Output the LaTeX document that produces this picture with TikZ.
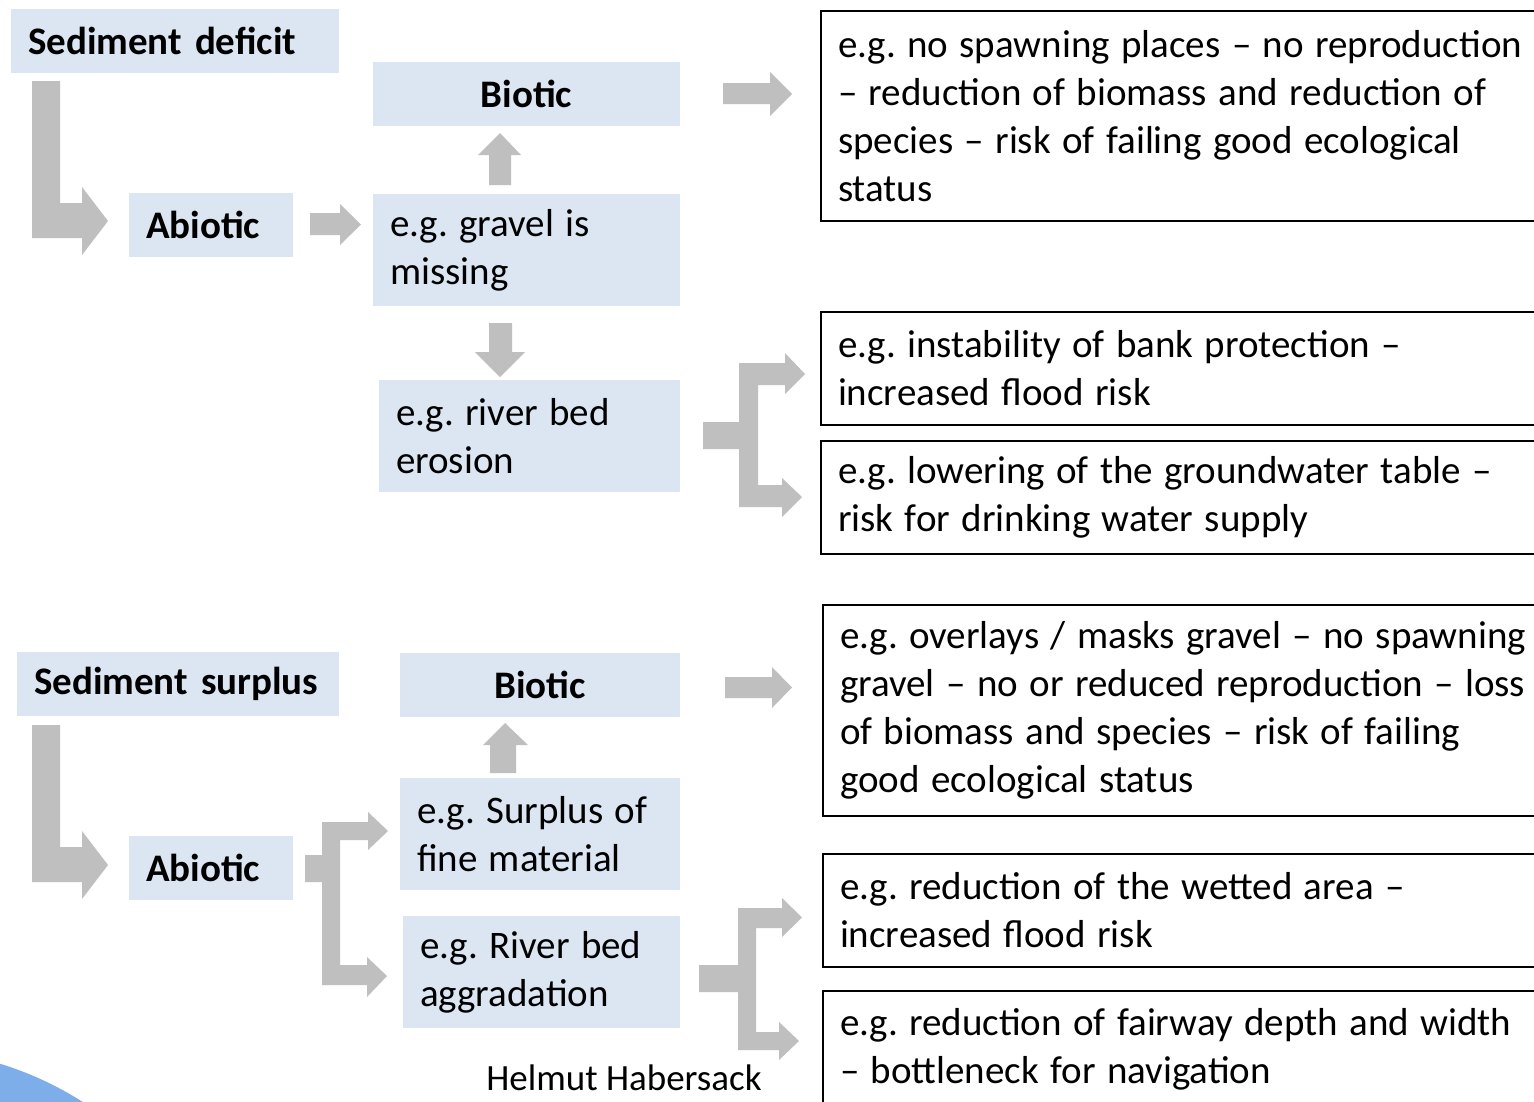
\documentclass[tikz,border=0pt]{standalone}
\usepackage{fontspec}
\setmainfont{Carlito}
\definecolor{boxblue}{HTML}{DCE6F2}
\definecolor{arrgray}{HTML}{BFBFBF}
\definecolor{circblue}{HTML}{7DAEEA}
\frenchspacing
\newcommand\bodyfont{\fontsize{39}{48}\selectfont}
\newcommand\tsp{\spaceskip=11.4pt plus 3pt minus 1pt\relax}
\begin{document}
\begin{tikzpicture}[x=1pt,y=-1pt,
  bluebox/.style={fill=boxblue, inner xsep=17pt, inner ysep=0pt, outer sep=0pt, anchor=north west, align=left, font=\bodyfont},
  headbox/.style={bluebox, font=\bodyfont\bfseries},
  outbox/.style={draw=black, line width=1.8pt, fill=white, inner xsep=17pt, inner ysep=0pt, outer sep=0pt, anchor=north west, align=left, font=\bodyfont, minimum width=740pt, text width=706pt},
  blockarrow/.style={fill=arrgray, draw=none}]

\useasboundingbox (0,0) rectangle (1534,1101);
\clip (0,0) rectangle (1534,1101);
\fill[white] (0,0) rectangle (1534,1101);
\fill[circblue] (-99,1387) circle (338);

% upper part
\node[headbox, minimum width=328pt, minimum height=64pt, text width=294pt] (sd) at (11,9) {Sediment deficit};
\node[headbox, minimum width=307pt, minimum height=64pt, text width=273pt, align=center] (bt) at (373,62) {Biotic};
\node[headbox, minimum width=164pt, minimum height=64pt, text width=130pt] (ab) at (129,193) {Abiotic};
\node[bluebox, minimum width=307pt, minimum height=112pt, text width=273pt] (gr) at (373,194) {\tsp e.g. gravel is\\missing};
\node[bluebox, minimum width=301pt, minimum height=112pt, text width=267pt] (er) at (379,380) {\tsp e.g. river bed\\erosion};

\node[outbox, minimum height=210pt] (o1) at (821,11) {\tsp e.g. no spawning places – no reproduction\\– reduction of biomass and reduction of\\species – risk of failing good ecological\\status};
\node[outbox, minimum height=113pt] (o2) at (821,312) {\tsp e.g. instability of bank protection –\\increased flood risk};
\node[outbox, minimum height=113pt] (o3) at (821,441) {\tsp e.g. lowering of the groundwater table –\\risk for drinking water supply};

% lower part
\node[headbox, minimum width=322pt, minimum height=64pt, text width=288pt] (ss) at (17,652) {Sediment surplus};
\node[headbox, minimum width=280pt, minimum height=64pt, text width=246pt, align=center] (bb) at (400,653) {Biotic};
\node[headbox, minimum width=164pt, minimum height=64pt, text width=130pt] (ab2) at (129,836) {Abiotic};
\node[bluebox, minimum width=280pt, minimum height=112pt, text width=246pt] (fm) at (400,778) {\tsp e.g. Surplus of\\fine material};
\node[bluebox, minimum width=277pt, minimum height=112pt, text width=243pt] (ag) at (403,916) {\tsp e.g. River bed\\aggradation};

\node[outbox, minimum height=211pt] (o4) at (823,605) {\tsp e.g. overlays / masks gravel – no spawning\\gravel – no or reduced reproduction – loss\\of biomass and species – risk of failing\\good ecological status};
\node[outbox, minimum height=113pt] (o5) at (823,854) {\tsp e.g. reduction of the wetted area –\\increased flood risk};
\node[outbox, minimum height=116pt] (o6) at (823,991) {\tsp e.g. reduction of fairway depth and width\\– bottleneck for navigation};

\node[font=\fontsize{37}{44}\selectfont, inner sep=0pt] (author) at (624,1078) {Helmut Habersack};

% block arrows
\fill[blockarrow] (32,81) -- (60,81) -- (60,203) -- (82,203) -- (82,187) -- (108,221) -- (82,255) -- (82,238) -- (32,238) -- cycle;
\fill[blockarrow] (32,725) -- (60,725) -- (60,847) -- (82,847) -- (82,831) -- (108,865) -- (82,899) -- (82,882) -- (32,882) -- cycle;
\fill[blockarrow] (310,213) -- (340,213) -- (340,204) -- (361,224.5) -- (340,245) -- (340,235) -- (310,235) -- cycle;
\fill[blockarrow] (489,185) -- (489,155) -- (478,155) -- (500,133) -- (521,155) -- (511,155) -- (511,185) -- cycle;
\fill[blockarrow] (489,323) -- (512,323) -- (512,352) -- (525,352) -- (500,377) -- (475,352) -- (489,352) -- cycle;
\fill[blockarrow] (723,83) -- (770,83) -- (770,72) -- (792,94) -- (770,116) -- (770,104) -- (723,104) -- cycle;
\fill[blockarrow] (703,422) -- (739,422) -- (739,363) -- (785,363) -- (785,353) -- (805,374) -- (785,394) -- (785,385) -- (758,385) -- (758,485) -- (782,485) -- (782,478) -- (802,497) -- (782,517) -- (782,507) -- (739,507) -- (739,449) -- (703,449) -- cycle;
\fill[blockarrow] (305,855) -- (322,855) -- (322,822) -- (368,822) -- (368,812) -- (388,831) -- (368,850) -- (368,840) -- (340,840) -- (340,965) -- (367,965) -- (367,957) -- (387,976) -- (367,997) -- (367,985) -- (322,985) -- (322,882) -- (305,882) -- cycle;
\fill[blockarrow] (490,773) -- (490,745) -- (483,745) -- (505,723) -- (528,745) -- (516,745) -- (516,773) -- cycle;
\fill[blockarrow] (725,677) -- (772,677) -- (772,667) -- (792,687.5) -- (772,708) -- (772,698) -- (725,698) -- cycle;
\fill[blockarrow] (699,965) -- (738,965) -- (738,908) -- (782,908) -- (782,898) -- (802,917.5) -- (782,937) -- (782,928) -- (756,928) -- (756,1032) -- (779,1032) -- (779,1022) -- (799,1041) -- (779,1060) -- (779,1050) -- (738,1050) -- (738,992) -- (699,992) -- cycle;
\end{tikzpicture}
\end{document}
